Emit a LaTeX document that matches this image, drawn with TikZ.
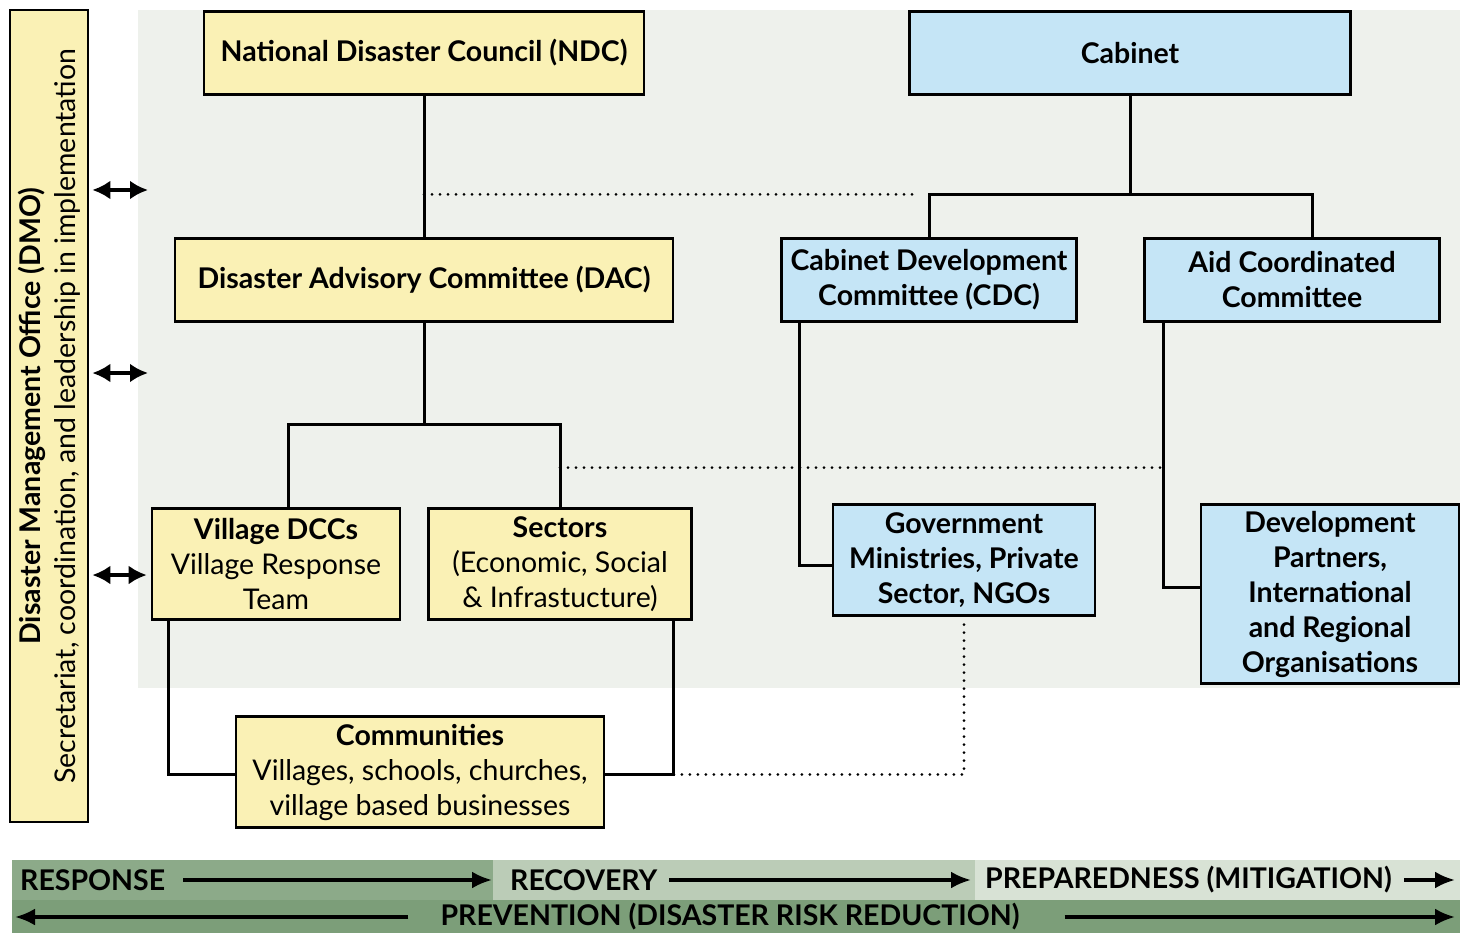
\documentclass[tikz,border=0pt]{standalone}
\usepackage{fontspec}
\setmainfont{Lato}
\usetikzlibrary{arrows.meta,calc}

\newcommand{\boxfont}{\fontsize{28.5}{35}\selectfont}

\definecolor{boxyellow}{RGB}{250,241,181}
\definecolor{boxblue}{RGB}{197,229,246}
\definecolor{panelgray}{RGB}{238,241,236}
\definecolor{bandA}{RGB}{140,170,137}
\definecolor{bandB}{RGB}{187,204,183}
\definecolor{bandC}{RGB}{216,226,213}
\definecolor{bandD}{RGB}{124,158,121}

\tikzset{
  ybox/.style={draw, line width=2.6pt, fill=boxyellow, inner sep=0pt, align=center, font=\boxfont},
  bbox/.style={ybox, fill=boxblue, font=\boxfont\bfseries},
  conn/.style={line width=3pt},
  dots/.style={line width=3pt, line cap=round, dash pattern=on 0pt off 8pt},
  dbl/.style={line width=3.6pt, {Latex[length=18pt,width=19pt]}-{Latex[length=18pt,width=19pt]}},
  flow/.style={line width=3.4pt, -{Latex[length=20pt,width=17pt]}},
  bandtext/.style={font=\boxfont\bfseries, inner sep=0pt, anchor=west},
}

\begin{document}
\begin{tikzpicture}[x=1pt,y=-1pt]
  \useasboundingbox (0,0) rectangle (1469,933);
  %\draw[step=100,gray,very thin] (0,0) grid (1469,933);

  % panel behind the chart
  \fill[panelgray] (138,10) rectangle (1460,688);

  % DMO column
  \node[ybox, minimum width=78pt, minimum height=812pt] (dmo) at (49,416) {};
  \node[rotate=90, align=center, font=\boxfont] at (dmo.center)
    {\textbf{Disaster Management Office (DMO)}\\Secretariat, coordination, and leadership in implementation};

  % top level
  \node[ybox, font=\boxfont\bfseries, minimum width=440pt, minimum height=83pt] (ndc) at (424,53) {National Disaster Council (NDC)};
  \node[bbox, minimum width=441pt, minimum height=83pt] (cab) at (1130,53) {Cabinet};

  % committees
  \node[ybox, font=\boxfont\bfseries, minimum width=498pt, minimum height=83pt] (dac) at (424,280) {Disaster Advisory Committee (DAC)};
  \node[bbox, minimum width=295pt, minimum height=83pt] (cdc) at (929,280) {Cabinet Development\\Committee (CDC)};
  \node[bbox, minimum width=295pt, minimum height=83pt] (aid) at (1292,280) {Aid Coordinated\\Committee};

  % third level
  \node[ybox, minimum width=248pt, minimum height=111pt] (vil) at (276,564) {\textbf{Village DCCs}\\Village Response\\Team};
  \node[ybox, minimum width=263pt, minimum height=111pt] (sec) at (560,564) {\textbf{Sectors}\\(Economic, Social\\\& Infrastucture)};
  \node[bbox, minimum width=262pt, minimum height=111pt] (gov) at (964,560) {Government\\Ministries, Private\\Sector, NGOs};
  \node[bbox, minimum width=258pt, minimum height=179pt] (dev) at (1330,594) {Development\\Partners,\\International\\and Regional\\Organisations};

  % communities
  \node[ybox, minimum width=368pt, minimum height=111pt] (com) at (420,772) {\textbf{Communities}\\Villages, schools, churches,\\village based businesses};

  % NDC side
  \draw[conn] (ndc.south) -- (dac.north);
  \draw[conn] (dac.south) -- ++(0,101.5) coordinate (dacj);
  \draw[conn] ($(vil.north)+(12,0)$) |- (dacj) -| (sec.north);

  % cabinet side
  \draw[conn] (cab.south) -- ++(0,98.5) coordinate (cabj);
  \draw[conn] (cdc.north) |- (cabj) -| ($(aid.north)+(20,0)$);
  \coordinate (cdcd) at ($(cdc.south west)+(19,0)$);
  \coordinate (aidd) at ($(aid.south west)+(20,0)$);
  \draw[conn] (cdcd) |- ($(gov.west)+(0,5)$);
  \draw[conn] (aidd) |- ($(dev.west)+(0,-7)$);

  % links to communities
  \coordinate (vild) at ($(vil.south west)+(18,0)$);
  \coordinate (secd) at ($(sec.south east)+(-19,0)$);
  \coordinate (comj) at ($(com.east)+(0,2.5)$);
  \draw[conn] (vild) |- ($(com.west)+(0,2.5)$);
  \draw[conn] (secd) |- (comj);

  % dotted links
  \draw[dots] (ndc.south |- cabj) -- ($(cdc.north |- cabj)+(-14,0)$);
  \coordinate (secm) at ($(sec.north)+(0,-39.5)$);
  \draw[dots] (secm) -- (secm -| aidd);
  \draw[dots] (secd |- comj) -| (gov.south);

  % DMO arrows
  \coordinate (a1) at (148,190);
  \coordinate (a2) at (148,373);
  \coordinate (a3) at ($(vil.west)+(0,11)$);
  \draw[dbl] ($(a1 -| dmo.east)+(3,0)$) -- (a1);
  \draw[dbl] ($(a2 -| dmo.east)+(3,0)$) -- (a2);
  \draw[dbl, shorten >=4pt] ($(a3 -| dmo.east)+(3,0)$) -- (a3);

  % phase band
  \fill[bandA] (12,860) rectangle (493,900);
  \fill[bandB] (493,860) rectangle (975,900);
  \fill[bandC] (975,860) rectangle (1460,900);
  \fill[bandD] (12,900) rectangle (1460,933);

  \node[bandtext] (resp) at (20,880) {RESPONSE};
  \node[bandtext] (reco) at (510,880) {RECOVERY};
  \node[bandtext] (prep) at (985,880) {PREPAREDNESS (MITIGATION)};
  \coordinate (bend) at (1455,880);
  \draw[flow, shorten <=18pt, shorten >=18pt] (resp.east) -- (reco.west);
  \draw[flow, shorten <=12pt, shorten >=14pt] (reco.east) -- (prep.west);
  \draw[flow, shorten <=12pt] (prep.east) -- (bend);

  \node[bandtext, anchor=center] (prev) at (730,917) {PREVENTION (DISASTER RISK REDUCTION)};
  \coordinate (bl) at (15,917);
  \coordinate (br) at (1455,917);
  \draw[flow, shorten <=32pt] (prev.west) -- (bl);
  \draw[flow, shorten <=45pt] (prev.east) -- (br);
\end{tikzpicture}
\end{document}
